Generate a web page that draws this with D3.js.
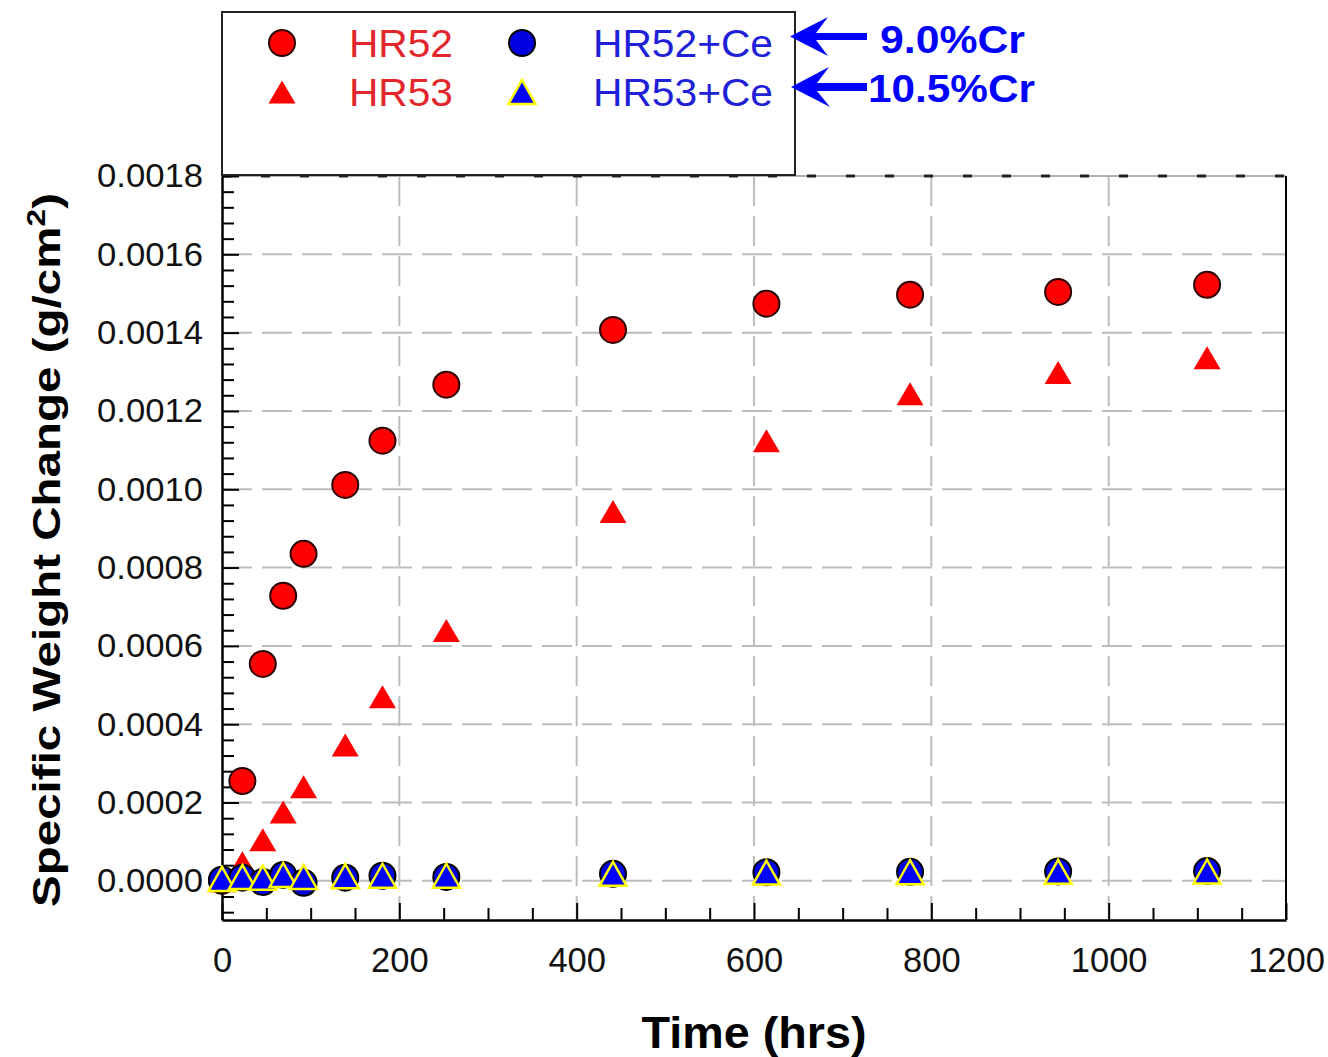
<!DOCTYPE html>
<html><head><meta charset="utf-8">
<script src="https://cdn.jsdelivr.net/npm/d3@7"></script>
<style>html,body{margin:0;padding:0;background:#fff;}svg{display:block;font-family:"Liberation Sans",Arial,sans-serif;}</style>
</head><body>
<svg id="c" width="1328" height="1057"></svg>
<script>
const times   = [0, 23, 46, 69, 92, 139, 181, 253, 441, 614, 776, 943, 1111];
const hr52    = [0, 0.000255, 0.000554, 0.000728, 0.000835, 0.001011, 0.001124, 0.001267, 0.001407, 0.001474, 0.001497, 0.001504, 0.001522];
const hr53    = [0, 0.000046, 0.000105, 0.000176, 0.000240, 0.000347, 0.000470, 0.000639, 0.000943, 0.001124, 0.001244, 0.001298, 0.001336];
const hr52ce  = [0.000003, 0.000008, -0.000003, 0.000015, -0.000005, 0.000008, 0.000013, 0.000010, 0.000018, 0.000022, 0.000023, 0.000024, 0.000025];
const hr53ce  = [0.000005, 0.000010, 0.000008, 0.000015, 0.000010, 0.000012, 0.000013, 0.000013, 0.000018, 0.000021, 0.000022, 0.000023, 0.000024];
const xTicks  = [0, 200, 400, 600, 800, 1000, 1200];
const yTicks  = [0, 0.0002, 0.0004, 0.0006, 0.0008, 0.0010, 0.0012, 0.0014, 0.0016, 0.0018];
const seriesNames = ["HR52", "HR53", "HR52+Ce", "HR53+Ce"];
const annotations = ["9.0%Cr", "10.5%Cr"];

const svg = d3.select("#c");
const L = 222, R = 1286, T = 176, B = 920;
const x = d3.scaleLinear().domain([0, 1200]).range([L, R]);
const y = d3.scaleLinear().domain([-0.0001, 0.0018]).range([B, T]);

// gridlines
const grid = svg.append("g").attr("stroke", "#bdbdbd").attr("stroke-width", 2).attr("stroke-dasharray", "30,10");
grid.selectAll("line.h").data(yTicks.filter(v => v < 0.0018)).join("line")
  .attr("x1", L).attr("x2", R).attr("y1", d => y(d)).attr("y2", d => y(d));
grid.selectAll("line.v").data(xTicks.filter(v => v > 0 && v < 1200)).join("line")
  .attr("y1", T).attr("y2", B).attr("x1", d => x(d)).attr("x2", d => x(d));

// top edge (gray line with dark dashes)
svg.append("line").attr("x1", L).attr("x2", R).attr("y1", T).attr("y2", T).attr("stroke", "#b0b0b0").attr("stroke-width", 2);
svg.append("line").attr("x1", L).attr("x2", R).attr("y1", T).attr("y2", T).attr("stroke", "#222").attr("stroke-width", 3).attr("stroke-dasharray", "9,30");
// right edge
svg.append("line").attr("x1", R).attr("x2", R).attr("y1", T).attr("y2", B).attr("stroke", "#000").attr("stroke-width", 2);

// minor ticks
const yMinor = d3.range(-2, 46).filter(i => i % 5 !== 0).map(i => i * 0.00004);
const xMinor = d3.range(0, 25).filter(i => i % 4 !== 0).map(i => i * 50);
svg.append("g").attr("transform", `translate(${L},0)`)
  .call(d3.axisLeft(y).tickValues(yMinor).tickSize(-12).tickFormat(""))
  .call(g => g.select(".domain").remove())
  .selectAll("line").attr("stroke-width", 2);
svg.append("g").attr("transform", `translate(0,${B})`)
  .call(d3.axisBottom(x).tickValues(xMinor).tickSize(-12).tickFormat(""))
  .call(g => g.select(".domain").remove())
  .selectAll("line").attr("stroke-width", 2);

// major axes
const yAxis = svg.append("g").attr("transform", `translate(${L},0)`)
  .call(d3.axisLeft(y).tickValues(yTicks).tickSize(-17).tickSizeOuter(0).tickPadding(19).tickFormat(d3.format(".4f")));
yAxis.selectAll("text").attr("font-size", 34).attr("fill", "#111").attr("font-family", "Liberation Sans, Arial, sans-serif")
  .attr("textLength", 106).attr("lengthAdjust", "spacingAndGlyphs");
yAxis.selectAll("line").attr("stroke-width", 2);
yAxis.select(".domain").attr("stroke-width", 2.5);

const xAxis = svg.append("g").attr("transform", `translate(0,${B})`)
  .call(d3.axisBottom(x).tickValues(xTicks).tickSize(-17).tickSizeOuter(0).tickPadding(28).tickFormat(d3.format("d")));
xAxis.selectAll("text").attr("font-size", 34.5).attr("fill", "#111").attr("font-family", "Liberation Sans, Arial, sans-serif");
xAxis.selectAll("line").attr("stroke-width", 2);
xAxis.select(".domain").attr("stroke-width", 2.5);

// marker helpers
function tri(w, h) { return `M0,${-h/2}L${w/2},${h/2}L${-w/2},${h/2}Z`; }
const styles = {
  "HR52":    {shape: "circle", fill: "#ff0000", stroke: "#2a0000", sw: 2},
  "HR53":    {shape: "tri", fill: "#ff0000", stroke: "none", sw: 0, w: 27, h: 23},
  "HR52+Ce": {shape: "circle", fill: "#0000e0", stroke: "#000", sw: 2},
  "HR53+Ce": {shape: "tri", fill: "#0000ff", stroke: "#ffff00", sw: 2.5, w: 27, h: 24}
};
function drawMarkers(g, name, pts) {
  const s = styles[name];
  if (s.shape === "circle") {
    g.selectAll("circle").data(pts).join("circle")
      .attr("cx", d => d[0]).attr("cy", d => d[1]).attr("r", 13)
      .attr("fill", s.fill).attr("stroke", s.stroke).attr("stroke-width", s.sw);
  } else {
    g.selectAll("path").data(pts).join("path")
      .attr("d", tri(s.w, s.h)).attr("transform", d => `translate(${d[0]},${d[1]})`)
      .attr("fill", s.fill).attr("stroke", s.stroke).attr("stroke-width", s.sw).attr("stroke-linejoin", "miter");
  }
}
const seriesVals = [hr52, hr53, hr52ce, hr53ce];
seriesNames.forEach((n, i) => {
  const pts = times.map((t, j) => [x(t), y(seriesVals[i][j])]);
  drawMarkers(svg.append("g"), n, pts);
});

// legend
const lg = svg.append("g");
lg.append("rect").attr("x", 222).attr("y", 12).attr("width", 573).attr("height", 163)
  .attr("fill", "#fff").attr("stroke", "#222").attr("stroke-width", 2);
const legPos = [[282, 43, 349, 57, 104], [282, 92, 349, 106, 104], [522, 43, 593, 57, 180], [522, 92, 593, 106, 180]];
seriesNames.forEach((n, i) => {
  const p = legPos[i];
  drawMarkers(lg.append("g"), n, [[p[0], p[1]]]);
  lg.append("text").attr("x", p[2]).attr("y", p[3]).attr("font-size", 39)
    .attr("textLength", p[4]).attr("lengthAdjust", "spacingAndGlyphs")
    .attr("fill", i < 2 ? "#e3262b" : "#2020d8").text(n);
});

// arrows + annotations
const arrowPts = [
  [[790,36.5],[828,17],[816,33],[867,33],[867,40],[816,40],[828,56]],
  [[791,87],[829,67],[817,83],[867,83],[867,91],[817,91],[830,107]]
];
arrowPts.forEach(p => svg.append("polygon").attr("points", p.map(q => q.join(",")).join(" ")).attr("fill", "#0000ff"));
const annPos = [[880, 53, 145], [868, 102, 167]];
annotations.forEach((a, i) => {
  svg.append("text").attr("x", annPos[i][0]).attr("y", annPos[i][1]).attr("font-size", 38).attr("font-weight", "bold")
    .attr("fill", "#0000ff").attr("textLength", annPos[i][2]).attr("lengthAdjust", "spacingAndGlyphs").text(a);
});

// axis titles
svg.append("text").attr("x", 754).attr("y", 1048).attr("text-anchor", "middle").attr("font-size", 44)
  .attr("font-weight", "bold").attr("fill", "#000").attr("textLength", 225).attr("lengthAdjust", "spacingAndGlyphs").text("Time (hrs)");
const yt = svg.append("text").attr("transform", "translate(60,550) rotate(-90)").attr("text-anchor", "middle")
  .attr("font-size", 39).attr("font-weight", "bold").attr("fill", "#000")
  .attr("textLength", 714).attr("lengthAdjust", "spacingAndGlyphs");
yt.append("tspan").text("Specific Weight Change (g/cm");
yt.append("tspan").attr("dy", -15).attr("font-size", 26).text("2");
yt.append("tspan").attr("dy", 15).text(")");
</script>
</body></html>
